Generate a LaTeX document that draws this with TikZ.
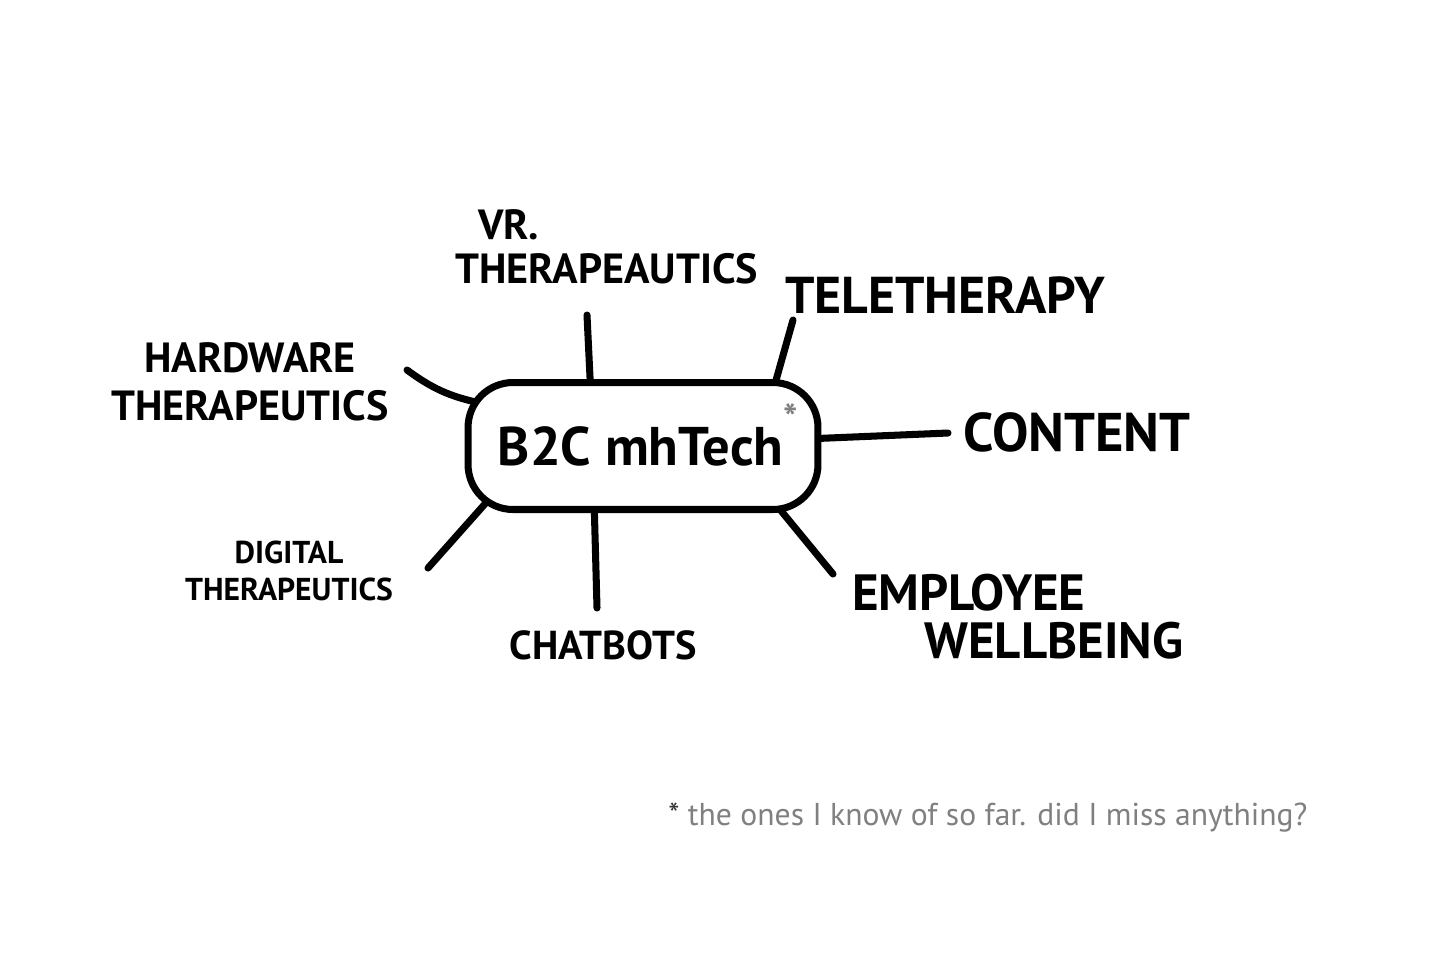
\documentclass[tikz,border=0pt]{standalone}
\usepackage{fontspec}
\setmainfont{PT Sans}
\usetikzlibrary{backgrounds}

\begin{document}
\begin{tikzpicture}[x = 0.02cm, y = -0.02cm,
	spoke/.style = {line width = 4pt, line cap = round},
	topic/.style = {font = \bfseries\fontsize{29}{27}\selectfont, inner sep = 0pt},
	narrow topic/.style = {font = \bfseries\fontsize{24}{25}\selectfont, inner sep = 0pt},
	small topic/.style = {font = \bfseries\fontsize{18}{21}\selectfont, inner sep = 0pt}]

	% Frame

	\useasboundingbox (0, 0) rectangle (1456, 971);

	% Hub

	\node [draw, line width = 4pt, fill = white, rounded corners = 0.9cm,
		minimum width = 7cm, minimum height = 2.54cm,
		font = \bfseries\fontsize{31}{31}\selectfont]
		(hub) at (643, 446) {\hspace{6pt}B2C mhTech\smash{\raisebox{10pt}{\textcolor{black!50}{\textsuperscript{*}}}}};

	% Free ends of the spokes

	\coordinate (vr end) at (587, 315);
	\coordinate (tele end) at (793, 320);
	\coordinate (hw end) at (407, 370);
	\coordinate (content end) at (948, 433);
	\coordinate (digital end) at (428, 568);
	\coordinate (chat end) at (597, 608);
	\coordinate (employee end) at (833, 574);

	% Spokes, hidden under the hub where they meet it

	\begin{pgfonlayer}{background}
		\draw [spoke] (vr end) -- ([shift = {(-52, -48)}] hub.center);
		\draw [spoke] (tele end) -- ([shift = {(128, -48)}] hub.center);
		\draw [spoke] (hw end) to [bend right = 12] ([shift = {(-163, -43)}] hub.center);
		\draw [spoke] (content end) -- ([shift = {(162, -7)}] hub.center);
		\draw [spoke] (digital end) -- ([shift = {(-151, 50)}] hub.center);
		\draw [spoke] (chat end) -- ([shift = {(-49, 52)}] hub.center);
		\draw [spoke] (employee end) -- ([shift = {(121, 44)}] hub.center);
	\end{pgfonlayer}

	% Topics

	\node [narrow topic, anchor = north west, align = left] (vr) at (455, 209)
		{\hspace{13pt}VR.\\THERAPEAUTICS};
	\node [topic, font = \bfseries\fontsize{29.5}{30}\selectfont, anchor = west] (tele) at (785, 295) {TELETHERAPY};
	\node [narrow topic, font = \bfseries\fontsize{24}{27}\selectfont, align = center] (hw) at (250, 382) {HARDWARE\\THERAPEUTICS};
	\node [topic, font = \bfseries\fontsize{31}{31}\selectfont, anchor = west] (content) at (963, 432) {CONTENT};
	\node [small topic, align = center] (digital) at (289, 571) {DIGITAL\\THERAPEUTICS};
	\node [topic, font = \bfseries\fontsize{23}{23}\selectfont] (chat) at (603, 645) {CHATBOTS};
	\node [topic, anchor = north west, align = left] (employee) at (852, 574)
		{EMPLOYEE\\\hspace{41pt}WELLBEING};

	% Footnote

	\node [anchor = west, inner sep = 0pt, text = black!50, font = \fontsize{18}{18}\selectfont]
		(note) at (668, 818) {\textcolor{black!80}{*} the ones I know of so far. did I miss anything?};

\end{tikzpicture}
\end{document}
